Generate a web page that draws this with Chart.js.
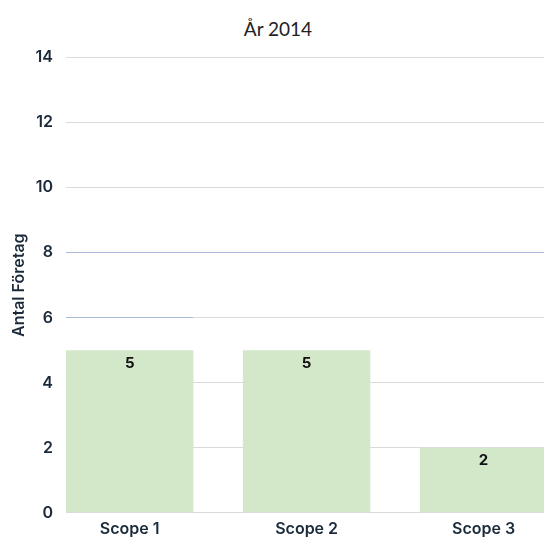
<!DOCTYPE html>
<html>
<head>
<meta charset="utf-8">
<script src="https://cdn.jsdelivr.net/npm/chart.js@4"></script>
<style>
  body { margin: 0; overflow: hidden; background: #fff; width: 544px; height: 538px; position: relative; }
  #title { position: absolute; top: 17px; left: 0; width: 556px; text-align: center;
           font-family: Lato, sans-serif; font-size: 19px; color: #222; }
  #wrap { position: absolute; top: 35px; left: 0; width: 572px; height: 511px; }
</style>
</head>
<body>
<div id="title">År 2014</div>
<div id="wrap"><canvas id="scopeChart"></canvas></div>
<script>
// Antal företag per scope, år 2014
const categories = ['Scope 1', 'Scope 2', 'Scope 3'];
const companies = [5, 5, 2];
const yTicks = [0, 2, 4, 6, 8, 10, 12, 14];

const FONT = 'Inter, sans-serif';
const INK = '#1b2a3a';
const GREY = '#dadada';
const BLUE = '#aabcdc';
const HALF_BAR = 0.8 * 0.9 / 2; // default category * bar percentage, halved

// linear x axis so the plot starts at the first bar's left edge
const points = companies.map((v, i) => ({ x: i, y: v }));

function gridColor(c) {
    if (!c.tick) return GREY;
    if (c.tick.value === 8) return BLUE;
    if (c.tick.value !== 6) return GREY;
    const chart = c.chart;
    const area = chart.chartArea;
    const xs = chart.scales.x;
    if (!area || !xs) return GREY;
    const t = (xs.getPixelForValue(HALF_BAR) - area.left) / area.width;
    const g = chart.ctx.createLinearGradient(area.left, 0, area.right, 0);
    g.addColorStop(0, BLUE);
    g.addColorStop(t, BLUE);
    g.addColorStop(t, GREY);
    g.addColorStop(1, GREY);
    return g;
}

// draws the value inside the top of each bar
const barLabels = {
    id: 'barLabels',
    afterDatasetsDraw(chart) {
        const ctx = chart.ctx;
        const meta = chart.getDatasetMeta(0);
        ctx.save();
        ctx.font = 'bold 15px ' + FONT;
        ctx.fillStyle = '#111';
        ctx.textAlign = 'center';
        ctx.textBaseline = 'middle';
        meta.data.forEach((bar, i) => {
            ctx.fillText(String(companies[i]), bar.x, bar.y + 13);
        });
        ctx.restore();
    }
};

const ctx = document.getElementById('scopeChart').getContext('2d');
new Chart(ctx, {
    type: 'bar',
    data: {
        datasets: [{
            label: 'Antal Företag',
            data: points,
            backgroundColor: '#d3e7c9',
            borderWidth: 0
        }]
    },
    options: {
        responsive: true,
        maintainAspectRatio: false,
        animation: false,
        layout: { padding: 0 },
        plugins: {
            legend: { display: false },
            tooltip: { enabled: false }
        },
        scales: {
            x: {
                type: 'linear',
                offset: false,
                min: -HALF_BAR,
                max: categories.length - 0.5,
                afterBuildTicks(scale) {
                    scale.ticks = categories.map((c, i) => ({ value: i }));
                },
                grid: { display: false, drawTicks: false },
                border: { display: false },
                ticks: {
                    color: INK,
                    padding: 7,
                    autoSkip: false,
                    maxRotation: 0,
                    callback: (v) => categories[v],
                    font: { family: FONT, size: 16, weight: '600' }
                }
            },
            y: {
                min: yTicks[0],
                max: yTicks[yTicks.length - 1],
                afterBuildTicks(scale) {
                    scale.ticks = yTicks.map(v => ({ value: v }));
                },
                afterFit(scale) {
                    scale.width = 66;
                },
                grid: {
                    drawTicks: false,
                    color: gridColor
                },
                border: { display: false },
                ticks: {
                    color: INK,
                    padding: 13,
                    font: { family: FONT, size: 16, weight: '600' }
                },
                title: {
                    display: true,
                    text: 'Antal Företag',
                    color: INK,
                    padding: { top: 10, bottom: 6 },
                    font: { family: FONT, size: 16, weight: '600' }
                }
            }
        }
    },
    plugins: [barLabels]
});
</script>
</body>
</html>
